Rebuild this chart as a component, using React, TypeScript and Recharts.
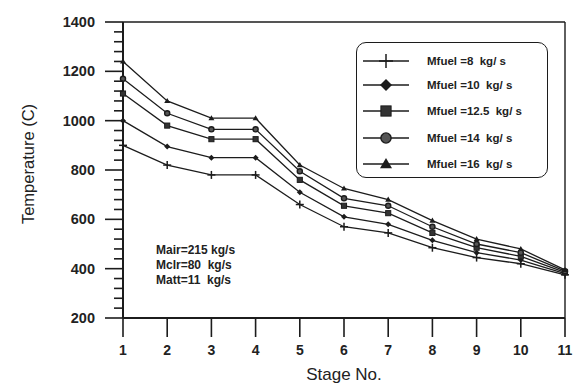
import { LineChart, Line, XAxis, YAxis, ReferenceLine } from 'recharts'

// stage numbers along the x axis
const STAGES = [1, 2, 3, 4, 5, 6, 7, 8, 9, 10, 11]

// temperature (C) per stage, one list per fuel mass flow
const MFUEL_8 = [900, 820, 780, 780, 660, 570, 545, 485, 445, 420, 375]
const MFUEL_10 = [1000, 895, 850, 850, 710, 610, 580, 515, 465, 435, 380]
const MFUEL_12_5 = [1110, 980, 925, 925, 760, 655, 625, 545, 485, 450, 385]
const MFUEL_14 = [1170, 1030, 965, 965, 795, 685, 655, 570, 500, 465, 390]
const MFUEL_16 = [1240, 1080, 1010, 1010, 820, 725, 680, 595, 520, 480, 395]

const Y_MAJOR = [200, 400, 600, 800, 1000, 1200, 1400]
const MINOR_PER_MAJOR = 5

const NOTES = ['Mair=215 kg/s', 'Mclr=80  kg/s', 'Matt=11  kg/s']

type Shape = 'plus' | 'diamond' | 'square' | 'circle' | 'triangle'

const SERIES: { key: string; name: string; values: number[]; shape: Shape }[] = [
  { key: 'm8', name: 'Mfuel =8  kg/ s', values: MFUEL_8, shape: 'plus' },
  { key: 'm10', name: 'Mfuel =10  kg/ s', values: MFUEL_10, shape: 'diamond' },
  { key: 'm12', name: 'Mfuel =12.5  kg/ s', values: MFUEL_12_5, shape: 'square' },
  { key: 'm14', name: 'Mfuel =14  kg/ s', values: MFUEL_14, shape: 'circle' },
  { key: 'm16', name: 'Mfuel =16  kg/ s', values: MFUEL_16, shape: 'triangle' },
]

const data = STAGES.map((stage, i) => {
  const row: Record<string, number> = { stage }
  SERIES.forEach((s) => (row[s.key] = s.values[i]))
  return row
})

// major ticks every 200, minor ones in between
const yTicks: number[] = []
Y_MAJOR.forEach((v, i) => {
  yTicks.push(v)
  const next = Y_MAJOR[i + 1]
  if (next === undefined) return
  for (let k = 1; k < MINOR_PER_MAJOR; k++) yTicks.push(v + ((next - v) * k) / MINOR_PER_MAJOR)
})

const INK = '#1c1c1c'
const FONT = '"Liberation Sans", Arial, sans-serif'

function Marker({ shape, cx, cy, s }: { shape: Shape; cx: number; cy: number; s: number }) {
  switch (shape) {
    case 'plus':
      return (
        <g stroke={INK} strokeWidth={1.5}>
          <line x1={cx - s} y1={cy} x2={cx + s} y2={cy} />
          <line x1={cx} y1={cy - s} x2={cx} y2={cy + s} />
        </g>
      )
    case 'diamond':
      return <polygon points={`${cx},${cy - s} ${cx + s},${cy} ${cx},${cy + s} ${cx - s},${cy}`} fill={INK} />
    case 'square':
      return <rect x={cx - s * 0.85} y={cy - s * 0.85} width={s * 1.7} height={s * 1.7} fill="#333" stroke={INK} />
    case 'circle':
      return <circle cx={cx} cy={cy} r={s * 0.85} fill="#555" stroke={INK} strokeWidth={1.4} />
    default:
      return <polygon points={`${cx},${cy - s} ${cx + s},${cy + s * 0.7} ${cx - s},${cy + s * 0.7}`} fill={INK} />
  }
}

function YTick({ x, y, payload }: any) {
  const major = Y_MAJOR.includes(payload.value)
  return (
    <g>
      <line x1={x - (major ? 18 : 9)} y1={y} x2={x} y2={y} stroke={INK} strokeWidth={1.6} />
      {major && (
        <text x={x - 28} y={y} dy={5} textAnchor="end" fontSize={14.5} fontWeight="bold" fill="#222" fontFamily={FONT}>
          {payload.value}
        </text>
      )}
    </g>
  )
}

function XTick({ x, y, payload }: any) {
  return (
    <g>
      <line x1={x} y1={y} x2={x} y2={y + 19} stroke={INK} strokeWidth={1.6} />
      <text x={x} y={y + 37} textAnchor="middle" fontSize={14} fontWeight="bold" fill="#222" fontFamily={FONT}>
        {payload.value}
      </text>
    </g>
  )
}

function LegendBox() {
  const rows = [18, 42, 68, 95, 121]
  return (
    <div
      style={{
        position: 'absolute',
        left: 356,
        top: 42,
        width: 190,
        height: 134,
        border: `1.5px solid ${INK}`,
        borderRadius: 10,
        background: '#fff',
      }}
    >
      <svg width={190} height={134}>
        {SERIES.map((s, i) => (
          <g key={s.key}>
            <line x1={6} y1={rows[i]} x2={52} y2={rows[i]} stroke={INK} strokeWidth={1.4} />
            <Marker shape={s.shape} cx={29} cy={rows[i]} s={s.shape === 'plus' ? 7 : 6} />
            <text
              x={70}
              y={rows[i] + 4}
              fontSize={11.5}
              fontWeight="bold"
              fill="#222"
              fontFamily={FONT}
              style={{ whiteSpace: 'pre' }}
            >
              {s.name}
            </text>
          </g>
        ))}
      </svg>
    </div>
  )
}

export default function App() {
  return (
    <div style={{ position: 'absolute', left: 0, top: 0, width: 575, height: 385, background: '#fff' }}>
      <LineChart width={575} height={385} data={data} margin={{ top: 22, right: 10, bottom: 0, left: 0 }}>
        <XAxis
          dataKey="stage"
          type="number"
          domain={[1, 11]}
          ticks={STAGES}
          tickSize={0}
          tickMargin={0}
          tick={<XTick />}
          height={67}
          axisLine={{ stroke: INK, strokeWidth: 2 }}
          label={{
            value: 'Stage No.',
            position: 'insideBottom',
            content: ({ viewBox }: any) => (
              <text
                x={viewBox.x + viewBox.width / 2}
                y={viewBox.y + viewBox.height - 5}
                textAnchor="middle"
                fontSize={17}
                fill="#222"
                fontFamily={FONT}
              >
                Stage No.
              </text>
            ),
          }}
        />
        <YAxis
          type="number"
          domain={[200, 1400]}
          ticks={yTicks}
          interval={0}
          tickSize={0}
          tickMargin={0}
          tick={<YTick />}
          width={123}
          axisLine={{ stroke: INK, strokeWidth: 2 }}
          label={{
            value: 'Temperature (C)',
            angle: -90,
            position: 'insideLeft',
            content: ({ viewBox }: any) => (
              <text
                x={30}
                y={viewBox.y + viewBox.height / 2 - 6}
                transform={`rotate(-90, 30, ${viewBox.y + viewBox.height / 2 - 6})`}
                textAnchor="middle"
                dominantBaseline="middle"
                fontSize={16.5}
                fill="#222"
                fontFamily={FONT}
              >
                Temperature (C)
              </text>
            ),
          }}
        />
        <ReferenceLine y={1400} stroke={INK} strokeWidth={1.6} />
        <ReferenceLine x={11} stroke={INK} strokeWidth={1.4} />
        {SERIES.map((s) => (
          <Line
            key={s.key}
            dataKey={s.key}
            name={s.name}
            stroke={INK}
            strokeWidth={1.3}
            isAnimationActive={false}
            dot={(p: any) => (
              <Marker key={`${s.key}-${p.index}`} shape={s.shape} cx={p.cx} cy={p.cy} s={s.shape === 'plus' ? 4 : 3} />
            )}
          />
        ))}
      </LineChart>
      <LegendBox />
      <div
        style={{
          position: 'absolute',
          left: 156,
          top: 243,
          fontFamily: FONT,
          fontSize: 12,
          fontWeight: 'bold',
          lineHeight: '15px',
          color: '#222',
          whiteSpace: 'pre',
        }}
      >
        {NOTES.map((n) => (
          <div key={n}>{n}</div>
        ))}
      </div>
    </div>
  )
}
